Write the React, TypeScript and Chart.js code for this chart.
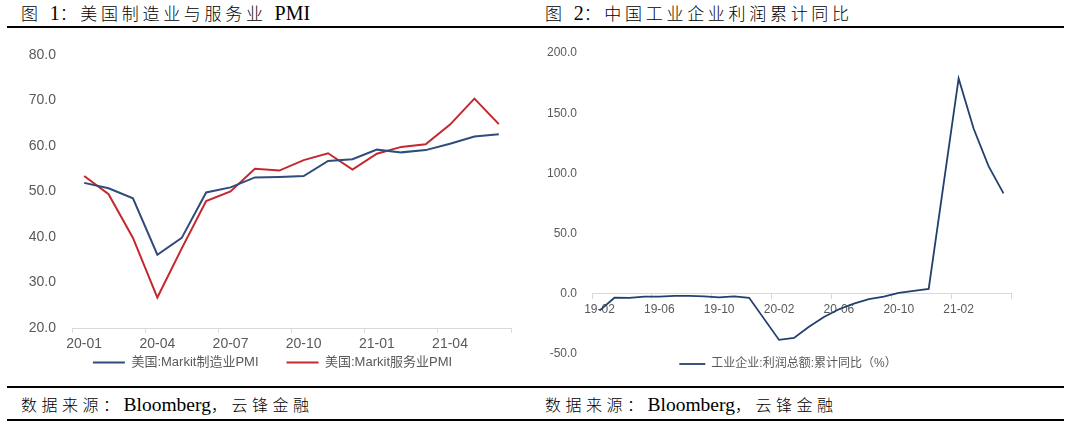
import React, { useEffect, useRef } from 'react';
import { Chart, registerables } from 'chart.js';

Chart.register(...registerables);

// ---------- data ----------
const pmiMonths = ['20-01', '20-02', '20-03', '20-04', '20-05', '20-06', '20-07', '20-08', '20-09', '20-10', '20-11', '20-12', '21-01', '21-02', '21-03', '21-04', '21-05', '21-06'];
const manufacturingPMI = [51.9, 50.7, 48.5, 36.1, 39.8, 49.8, 50.9, 53.1, 53.2, 53.4, 56.7, 57.1, 59.2, 58.6, 59.1, 60.5, 62.1, 62.6];
const servicesPMI = [53.4, 49.4, 39.8, 26.7, 37.5, 47.9, 50.0, 55.0, 54.6, 56.9, 58.4, 54.8, 58.3, 59.8, 60.4, 64.7, 70.4, 64.8];
const pmiSeriesNames = ['美国:Markit制造业PMI', '美国:Markit服务业PMI'];

const profitMonths = ['19-02', '19-03', '19-04', '19-05', '19-06', '19-07', '19-08', '19-09', '19-10', '19-11', '19-12', '20-01', '20-02', '20-03', '20-04', '20-05', '20-06', '20-07', '20-08', '20-09', '20-10', '20-11', '20-12', '21-01', '21-02', '21-03', '21-04', '21-05'];
const profitYoY = [-14.0, -3.3, -3.4, -2.3, -2.4, -1.7, -1.7, -2.1, -2.9, -2.1, -3.3, null, -38.3, -36.7, -27.4, -19.3, -12.8, -8.1, -4.4, -2.4, 0.7, 2.4, 4.1, null, 178.9, 137.3, 106.0, 83.4];
const profitSeriesName = '工业企业:利润总额:累计同比（%）';

// ---------- styles ----------
const tickColor = '#595959';
const axisColor = '#d9d9d9';
const blue = '#304C7C';
const red = '#C4282E';
const navy = '#22406F';

Chart.defaults.font.family = '"Liberation Sans", "Noto Sans CJK SC", sans-serif';

const everyNth = (n: number) => (ctx: any) =>
  ctx.type !== 'tick' || ctx.index % n === 0 ? axisColor : 'rgba(0,0,0,0)';

const spacerAxis = (w: number) => ({
  type: 'linear',
  position: 'right',
  display: true,
  grid: { display: false, drawTicks: false },
  border: { display: false },
  ticks: { display: false },
  afterFit: (s: any) => { s.width = w; },
});

function pmiConfig(): any {
  return {
    type: 'line',
    data: {
      labels: pmiMonths,
      datasets: [
        { label: pmiSeriesNames[0], data: manufacturingPMI, borderColor: blue, backgroundColor: blue, borderWidth: 2, pointRadius: 0, tension: 0, fill: false, yAxisID: 'y' },
        { label: pmiSeriesNames[1], data: servicesPMI, borderColor: red, backgroundColor: red, borderWidth: 2, pointRadius: 0, tension: 0, fill: false, yAxisID: 'y' },
      ],
    },
    options: {
      responsive: false,
      animation: false,
      layout: { padding: { top: 25, left: 0, right: 0, bottom: 0 } },
      plugins: {
        legend: {
          position: 'bottom',
          labels: {
            usePointStyle: true,
            pointStyle: 'line',
            pointStyleWidth: 32,
            padding: 28,
            color: tickColor,
            font: { size: 13 },
          },
        },
        tooltip: { enabled: false },
      },
      scales: {
        x: {
          type: 'category',
          position: { y: 20 },
          offset: true,
          grid: { offset: true, drawOnChartArea: false, drawTicks: true, tickLength: 4, color: everyNth(3), lineWidth: 1 },
          border: { display: true, color: axisColor, width: 1 },
          ticks: {
            autoSkip: false,
            maxRotation: 0,
            minRotation: 0,
            padding: 4,
            color: tickColor,
            font: { size: 14 },
            callback: (_v: any, i: number) => (i % 3 === 0 ? pmiMonths[i] : ''),
          },
          afterFit: (s: any) => { s.height = 3; },
        },
        y: {
          position: 'left',
          min: 20,
          max: 80,
          grid: { display: false, drawTicks: false },
          border: { display: false },
          ticks: {
            stepSize: 10,
            padding: 16,
            color: tickColor,
            font: { size: 14 },
            callback: (v: any) => Number(v).toFixed(1),
          },
          afterFit: (s: any) => { s.width = 64; },
        },
        spacer: spacerAxis(26),
      },
    },
  };
}

function profitConfig(): any {
  return {
    type: 'line',
    data: {
      labels: profitMonths,
      datasets: [
        { label: profitSeriesName, data: profitYoY, borderColor: navy, backgroundColor: navy, borderWidth: 1.8, pointRadius: 0, tension: 0, fill: false, spanGaps: true, yAxisID: 'y' },
      ],
    },
    options: {
      responsive: false,
      animation: false,
      layout: { padding: { top: 23, left: 0, right: 0, bottom: 0 } },
      plugins: {
        legend: {
          position: 'bottom',
          labels: {
            usePointStyle: true,
            pointStyle: 'line',
            pointStyleWidth: 26,
            padding: 4,
            color: tickColor,
            font: { size: 12 },
          },
        },
        tooltip: { enabled: false },
      },
      scales: {
        x: {
          type: 'category',
          position: { y: 0 },
          offset: true,
          grid: { offset: true, drawOnChartArea: false, drawTicks: true, tickLength: 5, color: everyNth(4), lineWidth: 1 },
          border: { display: true, color: axisColor, width: 1 },
          ticks: {
            autoSkip: false,
            maxRotation: 0,
            minRotation: 0,
            padding: 4,
            color: tickColor,
            font: { size: 12 },
            callback: (_v: any, i: number) => (i % 4 === 0 ? profitMonths[i] : ''),
          },
          afterFit: (s: any) => { s.height = 2; },
        },
        y: {
          position: 'left',
          min: -50,
          max: 200,
          grid: { display: false, drawTicks: false },
          border: { display: false },
          ticks: {
            stepSize: 50,
            padding: 15,
            color: tickColor,
            font: { size: 12 },
            callback: (v: any) => Number(v).toFixed(1),
          },
          afterFit: (s: any) => { s.width = 57; },
        },
        spacer: spacerAxis(30),
      },
    },
  };
}

function ChartCanvas(props: { left: number; top: number; width: number; height: number; config: () => any }) {
  const ref = useRef<HTMLCanvasElement>(null);
  useEffect(() => {
    const chart = new Chart(ref.current as HTMLCanvasElement, props.config());
    return () => chart.destroy();
  }, []);
  return (
    <canvas
      ref={ref}
      width={props.width}
      height={props.height}
      style={{ position: 'absolute', left: props.left, top: props.top, width: props.width, height: props.height }}
    />
  );
}

const cjkFont = '"Liberation Serif", "Noto Sans CJK SC", serif';
const latinStyle: React.CSSProperties = { fontSize: 20, letterSpacing: 0, fontFamily: '"Liberation Serif", serif' };

function Title(props: { left: number; children: React.ReactNode }) {
  return (
    <div
      style={{
        position: 'absolute',
        left: props.left,
        top: 3,
        fontSize: 17,
        lineHeight: '20px',
        letterSpacing: 3.7,
        fontFamily: cjkFont,
        fontWeight: 300,
        color: '#000',
        whiteSpace: 'nowrap',
      }}
    >
      {props.children}
    </div>
  );
}

function Source(props: { left: number }) {
  return (
    <div
      style={{
        position: 'absolute',
        left: props.left,
        top: 395,
        fontSize: 16,
        lineHeight: '20px',
        fontFamily: cjkFont,
        fontWeight: 300,
        color: '#000',
        whiteSpace: 'nowrap',
      }}
    >
      <span style={{ letterSpacing: 4.5 }}>数据来源：</span>
      <span style={{ fontSize: 19.5, fontFamily: '"Liberation Serif", serif' }}>Bloomberg</span>
      <span style={{ letterSpacing: 4.5 }}>，云锋金融</span>
    </div>
  );
}

function Rule(props: { top: number }) {
  return <div style={{ position: 'absolute', left: 7, top: props.top, width: 1057, height: 2, background: '#000' }} />;
}

export default function App() {
  return (
    <div>
      <Title left={21}>
        图 <span style={latinStyle}>1</span>：美国制造业与服务业 <span style={latinStyle}>PMI</span>
      </Title>
      <Title left={545}>
        图 <span style={latinStyle}>2</span>：中国工业企业利润累计同比
      </Title>
      <Rule top={26} />
      <ChartCanvas left={8} top={30} width={529} height={349} config={pmiConfig} />
      <ChartCanvas left={535} top={30} width={506} height={350} config={profitConfig} />
      <Rule top={386} />
      <Source left={21} />
      <Source left={545} />
      <Rule top={419} />
    </div>
  );
}
